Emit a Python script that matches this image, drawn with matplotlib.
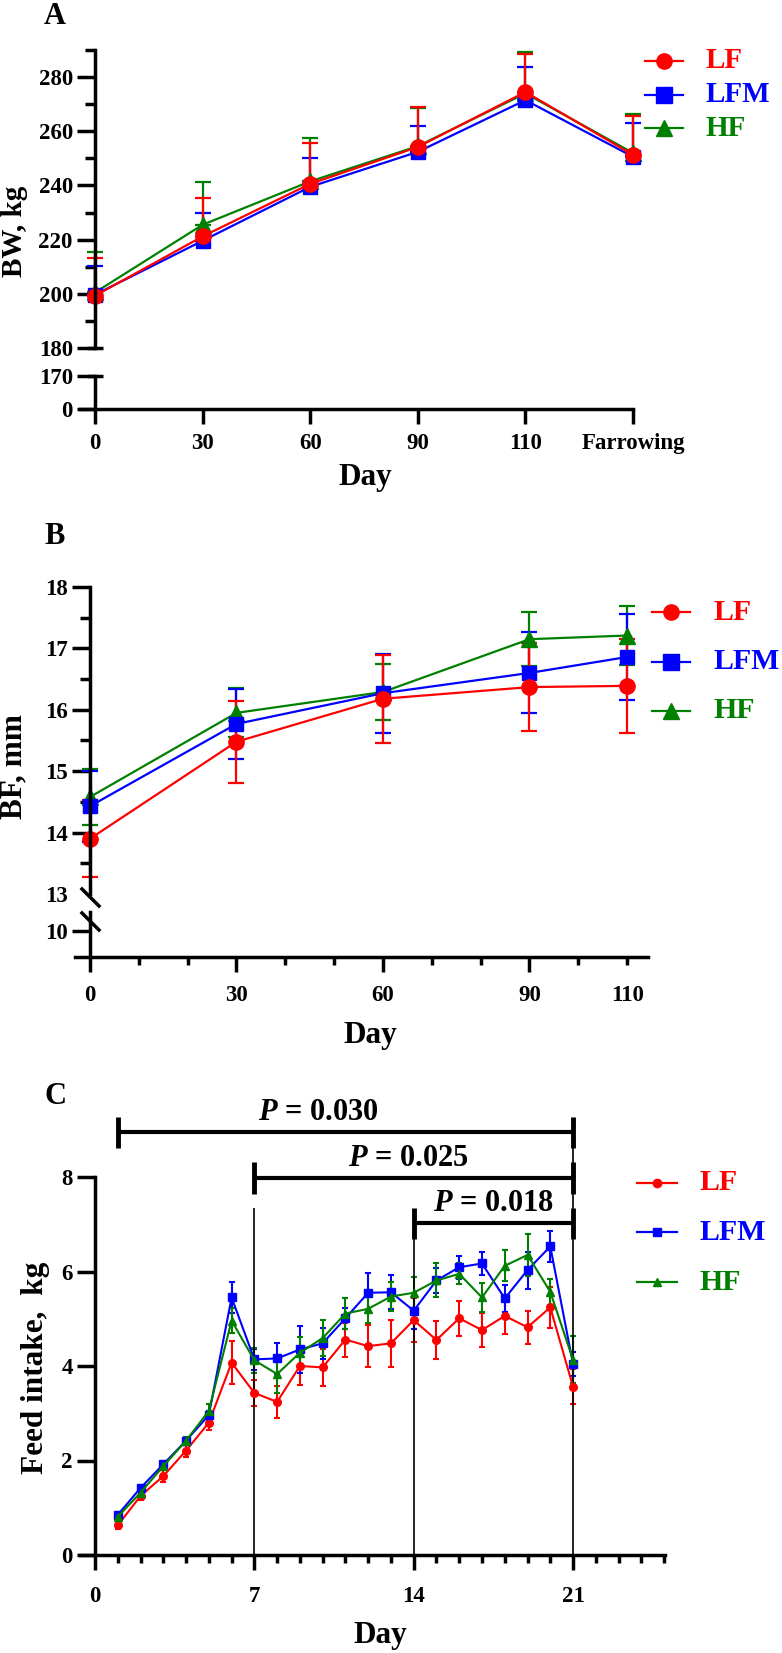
import numpy as np
import matplotlib
matplotlib.use('Agg')
import matplotlib.pyplot as plt
from matplotlib.lines import Line2D

# ---- data ----
series_names = ['LF', 'LFM', 'HF']
series_colors = ['#FF0000', '#0000FF', '#008000']

# panel A: body weight (mean, upper SD)
a_days = ['0', '30', '60', '90', '110', 'Farrowing']
a_lf = [199.3, 221.2, 240.6, 254.2, 274.5, 251.3]
a_lf_sd = [14.1, 14.2, 15.1, 14.8, 14.2, 14.3]
a_lfm = [199.7, 219.6, 239.5, 252.4, 271.5, 250.6]
a_lfm_sd = [10.7, 10.3, 10.7, 9.6, 12.2, 12.4]
a_hf = [200.5, 225.5, 241.5, 254.5, 274.0, 252.0]
a_hf_sd = [15.0, 15.8, 16.0, 14.0, 15.2, 14.3]

# panel B: backfat
b_days = [0, 30, 60, 90, 110]
b_lf = [13.90, 15.48, 16.18, 16.37, 16.39]
b_lf_sd = [0.63, 0.67, 0.72, 0.71, 0.76]
b_lfm = [14.43, 15.77, 16.27, 16.60, 16.86]
b_lfm_sd = [0.58, 0.57, 0.64, 0.66, 0.70]
b_hf = [14.58, 15.95, 16.29, 17.15, 17.21]
b_hf_sd = [0.45, 0.40, 0.45, 0.44, 0.48]

# panel C: daily feed intake, lactation days 1-21
c_days = list(range(1, 22))
c_lf = [0.63, 1.25, 1.67, 2.21, 2.80, 4.07, 3.43, 3.24, 4.00, 3.97, 4.56,
        4.42, 4.48, 4.97, 4.55, 5.01, 4.76, 5.06, 4.82, 5.24, 3.56]
c_lf_sd = [0.08, 0.09, 0.13, 0.14, 0.15, 0.45, 0.28, 0.34, 0.40, 0.39, 0.36,
           0.45, 0.50, 0.47, 0.40, 0.37, 0.36, 0.39, 0.35, 0.44, 0.37]
c_lfm = [0.85, 1.42, 1.92, 2.42, 2.96, 5.45, 4.14, 4.16, 4.35, 4.48, 5.01,
         5.55, 5.56, 5.17, 5.81, 6.09, 6.17, 5.43, 6.03, 6.53, 4.04]
c_lfm_sd = [0.05, 0.05, 0.06, 0.07, 0.08, 0.33, 0.22, 0.33, 0.49, 0.33, 0.22,
            0.41, 0.36, 0.38, 0.26, 0.24, 0.25, 0.28, 0.39, 0.32, 0.25]
c_hf = [0.81, 1.32, 1.88, 2.42, 3.05, 4.96, 4.12, 3.83, 4.28, 4.59, 5.11,
        5.21, 5.47, 5.55, 5.81, 5.95, 5.45, 6.12, 6.35, 5.57, 4.13]
c_hf_sd = [0.05, 0.06, 0.06, 0.07, 0.14, 0.27, 0.27, 0.40, 0.33, 0.38, 0.32,
           0.30, 0.31, 0.34, 0.36, 0.22, 0.31, 0.33, 0.44, 0.28, 0.50]

# significance brackets in C
p_labels = ['0.030', '0.025', '0.018']
p_start = [1, 7, 14]
p_end = [21, 21, 21]
p_height = [8.95, 7.98, 7.02]
p_text_x = [9.8, 13.75, 17.5]
vline_x = [7, 14, 21]
vline_top = [7.34, 7.02, 8.95]

# ---- style ----
plt.rcParams['font.family'] = ['Liberation Serif', 'DejaVu Serif']
plt.rcParams['font.weight'] = 'bold'
plt.rcParams['mathtext.fontset'] = 'custom'
plt.rcParams['mathtext.it'] = 'Liberation Serif:italic:bold'
plt.rcParams['mathtext.rm'] = 'Liberation Serif:bold'

W, H = 782, 1653
fig = plt.figure(figsize=(W / 100, H / 100), dpi=100)


def box(x0, x1, y0, y1):
    return [x0 / W, 1 - y1 / H, (x1 - x0) / W, (y1 - y0) / H]


def fx(x):
    return x / W


def fy(y):
    return 1 - y / H


def style(ax, show_x=True, xpad=6):
    ax.spines['top'].set_visible(False)
    ax.spines['right'].set_visible(False)
    ax.spines['bottom'].set_visible(show_x)
    ax.spines['left'].set_position(('data', 0))
    ax.spines['left'].set_linewidth(2.5)
    ax.spines['bottom'].set_linewidth(2.5)
    ax.patch.set_visible(False)
    ax.tick_params(which='both', width=2.5, labelsize=16.5, direction='out')
    ax.tick_params(axis='y', which='major', length=13, pad=3)
    ax.tick_params(axis='y', which='minor', length=7)
    ax.tick_params(axis='x', which='major', length=11, pad=xpad)
    ax.tick_params(axis='x', which='minor', length=6)
    if not show_x:
        ax.tick_params(axis='x', which='both', bottom=False, labelbottom=False)


def draw(ax, x, y, sd, color, marker, ms, lw, cap, upper_only=False):
    err = [np.zeros(len(sd)), sd] if upper_only else sd
    cont = ax.errorbar(x, y, yerr=err, color=color, marker=marker, ms=ms,
                       lw=lw, elinewidth=lw, capsize=cap, capthick=lw)
    for art in cont.get_children():
        art.set_clip_on(False)


def legend(x0, x1, xt, ys, markers, ms, fs):
    for name, color, mk, y in zip(series_names, series_colors, markers, ys):
        fig.add_artist(Line2D([fx(x0), fx(x1)], [fy(y), fy(y)], color=color,
                              lw=1.6, transform=fig.transFigure))
        fig.add_artist(Line2D([fx((x0 + x1) / 2)], [fy(y)], color=color,
                              marker=mk, ms=ms, transform=fig.transFigure))
        fig.text(fx(xt), fy(y), name, color=color, fontsize=fs,
                 va='center', ha='left')


# ---- panel A ----
axA = fig.add_axes(box(80, 633, 50, 348))
axA2 = fig.add_axes(box(80, 633, 376, 409))
xA = np.arange(len(a_days))
a_series = [(a_hf, a_hf_sd, 2, '^'), (a_lfm, a_lfm_sd, 1, 's'), (a_lf, a_lf_sd, 0, 'o')]
for y, sd, i, mk in a_series:
    draw(axA, xA, y, sd, series_colors[i], mk, 11 if mk != 's' else 10, 1.6, 6, upper_only=True)
for ax in (axA, axA2):
    ax.set_xlim(-0.14, 5)
axA.set_ylim(180, 290)
axA.set_yticks(range(180, 281, 20))
axA.set_yticks(range(190, 291, 20), minor=True)
style(axA, show_x=False)
axA2.set_ylim(0, 170)
axA2.set_yticks([0, 170])
axA2.set_xticks(xA)
axA2.set_xticklabels(a_days)
style(axA2, xpad=6)
axA.plot([0], [180], marker='_', ms=12, mew=2.5, color='k', clip_on=False)
axA2.plot([0], [170], marker='_', ms=12, mew=2.5, color='k', clip_on=False)
legend(645, 683, 705, [61, 95, 128], ['o', 's', '^'], 11, 21)

# ---- panel B ----
axB = fig.add_axes(box(75, 648, 587, 894))
axB2 = fig.add_axes(box(75, 648, 912, 957))
b_series = [(b_hf, b_hf_sd, 2, '^'), (b_lfm, b_lfm_sd, 1, 's'), (b_lf, b_lf_sd, 0, 'o')]
for y, sd, i, mk in b_series:
    draw(axB, b_days, y, sd, series_colors[i], mk, 11 if mk != 's' else 10, 1.6, 6)
for ax in (axB, axB2):
    ax.set_xlim(-3.07, 114.28)
axB.set_ylim(13, 18)
axB.set_yticks(range(13, 19))
axB.set_yticks(np.arange(13.5, 18, 1.0), minor=True)
style(axB, show_x=False)
axB.yaxis.get_major_ticks()[0].tick1line.set_visible(False)
axB2.set_ylim(9.577, 10.309)
axB2.set_yticks([10])
axB2.set_xticks(b_days)
axB2.set_xticks([10, 20, 40, 50, 70, 80, 100], minor=True)
style(axB2, xpad=9)
axB2.xaxis.get_major_ticks()[-1].tick1line.set_markersize(6)
slash = [(-1, 1), (1, -1)]
axB.plot([0], [12.95], marker=slash, ms=14, mew=2.5, color='k', clip_on=False)
axB2.plot([0], [10.16], marker=slash, ms=14, mew=2.5, color='k', clip_on=False)
legend(652, 690, 713, [612, 662, 711], ['o', 's', '^'], 11, 21.5)

# ---- panel C ----
axC = fig.add_axes(box(80, 665, 1177, 1555))
c_series = [(c_lf, c_lf_sd, 0, 'o'), (c_lfm, c_lfm_sd, 1, 's'), (c_hf, c_hf_sd, 2, '^')]
for y, sd, i, mk in c_series:
    draw(axC, c_days, y, sd, series_colors[i], mk, 5.5, 1.5, 2.5)
axC.set_xlim(-0.66, 25.04)
axC.set_ylim(0, 8)
axC.set_yticks(range(0, 9, 2))
axC.set_xticks([0, 7, 14, 21])
axC.set_xticks([d for d in range(1, 26) if d % 7 != 0], minor=True)
style(axC, xpad=11)
axC.vlines(vline_x, 0, vline_top, color='k', lw=1.2, clip_on=False)
for lab, s, e, h, tx in zip(p_labels, p_start, p_end, p_height, p_text_x):
    axC.plot([s, e], [h, h], color='k', lw=3, solid_capstyle='butt', clip_on=False)
    axC.vlines([s, e], h - 0.33, h + 0.33, color='k', lw=3.5, clip_on=False)
    axC.text(tx, h + 0.42, '$P$ = ' + lab, ha='center', va='center', fontsize=22)
legend(637, 677, 700, [1183, 1232, 1282], ['o', 's', '^'], 6, 21.5)

# ---- labels ----
fig.text(fx(55), fy(16), 'A', ha='center', va='center', fontsize=22)
fig.text(fx(55), fy(537), 'B', ha='center', va='center', fontsize=22)
fig.text(fx(55), fy(1097), 'C', ha='center', va='center', fontsize=22)
fig.text(fx(15), fy(231), 'BW, kg', rotation=90, ha='center', va='center', fontsize=21)
fig.text(fx(14), fy(767), 'BF, mm', rotation=90, ha='center', va='center', fontsize=22.5)
fig.text(fx(36), fy(1368), 'Feed intake,  kg', rotation=90, ha='center', va='center', fontsize=22.5)
fig.text(fx(365), fy(478), 'Day', ha='center', va='center', fontsize=22.5)
fig.text(fx(370), fy(1035), 'Day', ha='center', va='center', fontsize=22.5)
fig.text(fx(380), fy(1635), 'Day', ha='center', va='center', fontsize=22.5)

fig.savefig('out.png', dpi=100)
